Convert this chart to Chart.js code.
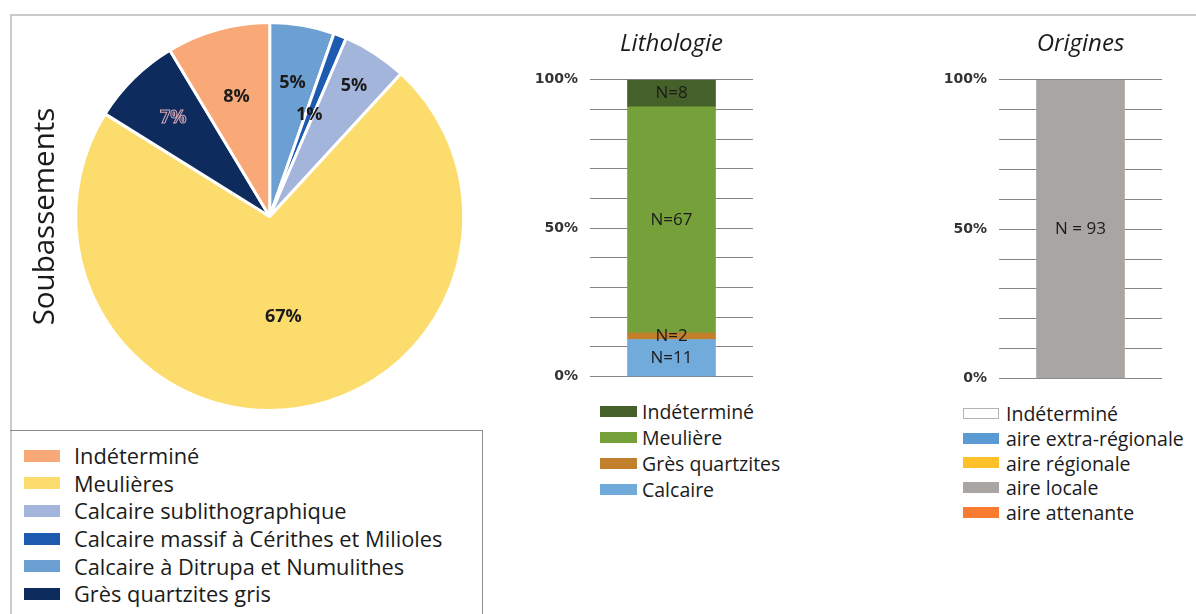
<!DOCTYPE html>
<html lang="fr">
<head>
<meta charset="utf-8">
<title>Soubassements : lithologie et origines</title>
<script src="https://cdn.jsdelivr.net/npm/chart.js@4.4.1/dist/chart.umd.min.js"></script>
<style>
  body { margin: 0; background: #fff; width: 1196px; height: 614px; overflow: hidden; position: relative;
         font-family: 'Open Sans', sans-serif; color: #1b1b1b; }
  #frame { position: absolute; left: 10px; top: 14px; width: 1200px; height: 620px;
           border-top: 2px solid #cacaca; border-left: 2px solid #cacaca; }
  .box { position: absolute; }
  .legend { position: absolute; }
  .legend .row { display: flex; align-items: center; white-space: nowrap; }
  .legend .sw { flex: none; display: inline-block; }
  #pieLegend { left: 10px; top: 430px; width: 473px; height: 200px; box-sizing: border-box;
               border-top: 1px solid #8c8c8c; border-right: 1px solid #8c8c8c; padding: 11px 0 0 14px; }
</style>
</head>
<body>
<div id="frame"></div>

<div class="box" style="left:10px; top:14px; width:480px; height:416px;"><canvas id="pieChart"></canvas></div>
<div class="legend" id="pieLegend"></div>

<div class="box" style="left:500px; top:20px; width:280px; height:377px;"><canvas id="lithoChart"></canvas></div>
<div class="legend" id="lithoLegend" style="left:600px; top:398px;"></div>

<div class="box" style="left:900px; top:20px; width:296px; height:379px;"><canvas id="originChart"></canvas></div>
<div class="legend" id="originLegend" style="left:963px; top:401px;"></div>

<script>
// Soubassements, clockwise from the top
var pieLabels = ['Calcaire à Ditrupa et Numulithes', 'Calcaire massif à Cérithes et Milioles',
                 'Calcaire sublithographique', 'Meulières', 'Grès quartzites gris', 'Indéterminé'];
var pieValues = [5, 1, 5, 67, 7, 8];
var pieColors = ['#6c9fd2', '#1d5bb0', '#a3b5db', '#fcdc6d', '#0e2b5e', '#f9a977'];
var pieLegendOrder = ['Indéterminé', 'Meulières', 'Calcaire sublithographique',
                      'Calcaire massif à Cérithes et Milioles', 'Calcaire à Ditrupa et Numulithes',
                      'Grès quartzites gris'];
// how far out (fraction of radius) each slice label sits
var pieLabelRadius = [0.7, 0.56, 0.8, 0.52, 0.71, 0.64];

// Lithologie, stacked from the bottom
var lithoSeries = ['Calcaire', 'Grès quartzites', 'Meulière', 'Indéterminé'];
var lithoCounts = [11, 2, 67, 8];
var lithoColors = ['#70abdc', '#c27f2c', '#76a03a', '#46602a'];

// Origines, stacked from the bottom
var originSeries = ['aire attenante', 'aire locale', 'aire régionale', 'aire extra-régionale', 'Indéterminé'];
var originCounts = [0, 93, 0, 0, 0];
var originColors = ['#f97b30', '#a8a5a2', '#ffc12a', '#5b9bd5', '#ffffff'];

var percentTicks = [0, 50, 100];

Chart.defaults.font.family = "'Open Sans', sans-serif";
Chart.defaults.color = '#1b1b1b';
Chart.defaults.animation = false;

// legend drawn in html so it can be a plain one-per-line list
function htmlLegend(chart, el, opts) {
    var items = chart.options.plugins.legend.labels.generateLabels(chart);
    if (opts.order) {
        items = opts.order.map(function(t) { return items.find(function(it) { return it.text === t; }); });
    }
    if (opts.reverse) items = items.reverse();
    items.forEach(function(it) {
        var row = document.createElement('div');
        row.className = 'row';
        row.style.height = opts.rowHeight + 'px';
        row.style.fontSize = opts.fontSize + 'px';
        var sw = document.createElement('span');
        sw.className = 'sw';
        sw.style.width = opts.swatch[0] + 'px';
        sw.style.height = opts.swatch[1] + 'px';
        sw.style.background = it.fillStyle;
        sw.style.marginRight = opts.gap + 'px';
        if (String(it.fillStyle).toLowerCase() === '#ffffff') sw.style.boxShadow = 'inset 0 0 0 1px #b3b3b3';
        row.appendChild(sw);
        row.appendChild(document.createTextNode(it.text));
        el.appendChild(row);
    });
}

// percent labels on the slices
var sliceLabels = {
    id: 'sliceLabels',
    afterDatasetsDraw: function(chart) {
        var ctx = chart.ctx;
        var meta = chart.getDatasetMeta(0);
        ctx.save();
        ctx.font = 'bold 18px "Open Sans", sans-serif';
        ctx.textAlign = 'center';
        ctx.textBaseline = 'middle';
        meta.data.forEach(function(arc, i) {
            var mid = (arc.startAngle + arc.endAngle) / 2;
            var r = arc.outerRadius * pieLabelRadius[i];
            var x = arc.x + Math.cos(mid) * r;
            var y = arc.y + Math.sin(mid) * r;
            var text = pieValues[i] + '%';
            if (pieColors[i] === '#0e2b5e') {
                // hollow lettering on the dark slice
                ctx.lineWidth = 1;
                ctx.strokeStyle = '#d9a9b6';
                ctx.strokeText(text, x, y);
            } else {
                ctx.fillStyle = '#1b1b1b';
                ctx.fillText(text, x, y);
            }
        });
        ctx.restore();
    }
};

// "N=.." labels in the middle of each stacked segment
function countLabels(counts, sep) {
    return {
        id: 'countLabels',
        afterDatasetsDraw: function(chart) {
            var ctx = chart.ctx;
            ctx.save();
            ctx.font = '17px "Open Sans", sans-serif';
            ctx.fillStyle = '#1b1b1b';
            ctx.textAlign = 'center';
            ctx.textBaseline = 'middle';
            chart.data.datasets.forEach(function(ds, i) {
                if (!counts[i]) return;
                var bar = chart.getDatasetMeta(i).data[0];
                var p = bar.getCenterPoint();
                ctx.fillText('N' + sep + '=' + sep + counts[i], p.x, p.y);
            });
            ctx.restore();
        }
    };
}

// empty categories get no segment at all
function stackedDatasets(series, counts, colors) {
    var total = counts.reduce(function(a, b) { return a + b; }, 0);
    return series.map(function(name, i) {
        return {
            label: name,
            data: [counts[i] ? counts[i] / total * 100 : null],
            backgroundColor: colors[i],
            borderWidth: 0,
            barThickness: 88
        };
    });
}

function stackedOptions(title, padding) {
    return {
        responsive: true,
        maintainAspectRatio: false,
        events: [],
        layout: { padding: padding },
        plugins: {
            legend: { display: false },
            tooltip: { enabled: false },
            title: {
                display: true,
                fullSize: false,
                text: title,
                font: { size: 24, style: 'italic', weight: 'normal' },
                color: '#1b1b1b',
                padding: { top: 10, bottom: 21 }
            }
        },
        scales: {
            x: { stacked: true, display: false },
            y: {
                stacked: true,
                min: 0,
                max: 100,
                border: { display: false },
                grid: { color: '#858585', lineWidth: 1, drawTicks: false },
                ticks: {
                    stepSize: 10,
                    autoSkip: false,
                    padding: 12,
                    color: '#333',
                    font: { family: "'DejaVu Sans', sans-serif", size: 14, weight: 'bold' },
                    callback: function(v) { return percentTicks.indexOf(v) >= 0 ? v + '%' : ''; }
                },
                afterFit: function(scale) { scale.width = 62; }
            }
        }
    };
}

var pieChart = new Chart(document.getElementById('pieChart'), {
    type: 'pie',
    data: {
        labels: pieLabels,
        datasets: [{
            data: pieValues,
            backgroundColor: pieColors,
            borderColor: '#ffffff',
            borderWidth: 3
        }]
    },
    options: {
        responsive: true,
        maintainAspectRatio: false,
        events: [],
        layout: { padding: { top: 7, bottom: 18, left: 15, right: 17 } },
        plugins: {
            legend: { display: false },
            tooltip: { enabled: false },
            title: {
                display: true,
                position: 'left',
                text: 'Soubassements',
                font: { size: 29.5, weight: 'normal' },
                color: '#1b1b1b',
                padding: 3
            }
        }
    },
    plugins: [sliceLabels]
});

var lithoChart = new Chart(document.getElementById('lithoChart'), {
    type: 'bar',
    data: { labels: [''], datasets: stackedDatasets(lithoSeries, lithoCounts, lithoColors) },
    options: stackedOptions('Lithologie', { left: 28, right: 27, top: 0, bottom: 0 }),
    plugins: [countLabels(lithoCounts, '')]
});

var originChart = new Chart(document.getElementById('originChart'), {
    type: 'bar',
    data: { labels: [''], datasets: stackedDatasets(originSeries, originCounts, originColors) },
    options: stackedOptions('Origines', { left: 37, right: 34, top: 0, bottom: 0 }),
    plugins: [countLabels(originCounts, ' ')]
});

htmlLegend(pieChart, document.getElementById('pieLegend'),
    { order: pieLegendOrder, rowHeight: 27.6, fontSize: 21.8, swatch: [36, 12], gap: 14 });
htmlLegend(lithoChart, document.getElementById('lithoLegend'),
    { reverse: true, rowHeight: 26, fontSize: 19.5, swatch: [37, 11], gap: 5 });
htmlLegend(originChart, document.getElementById('originLegend'),
    { reverse: true, rowHeight: 24.8, fontSize: 19.5, swatch: [36, 11], gap: 7 });
</script>
</body>
</html>
